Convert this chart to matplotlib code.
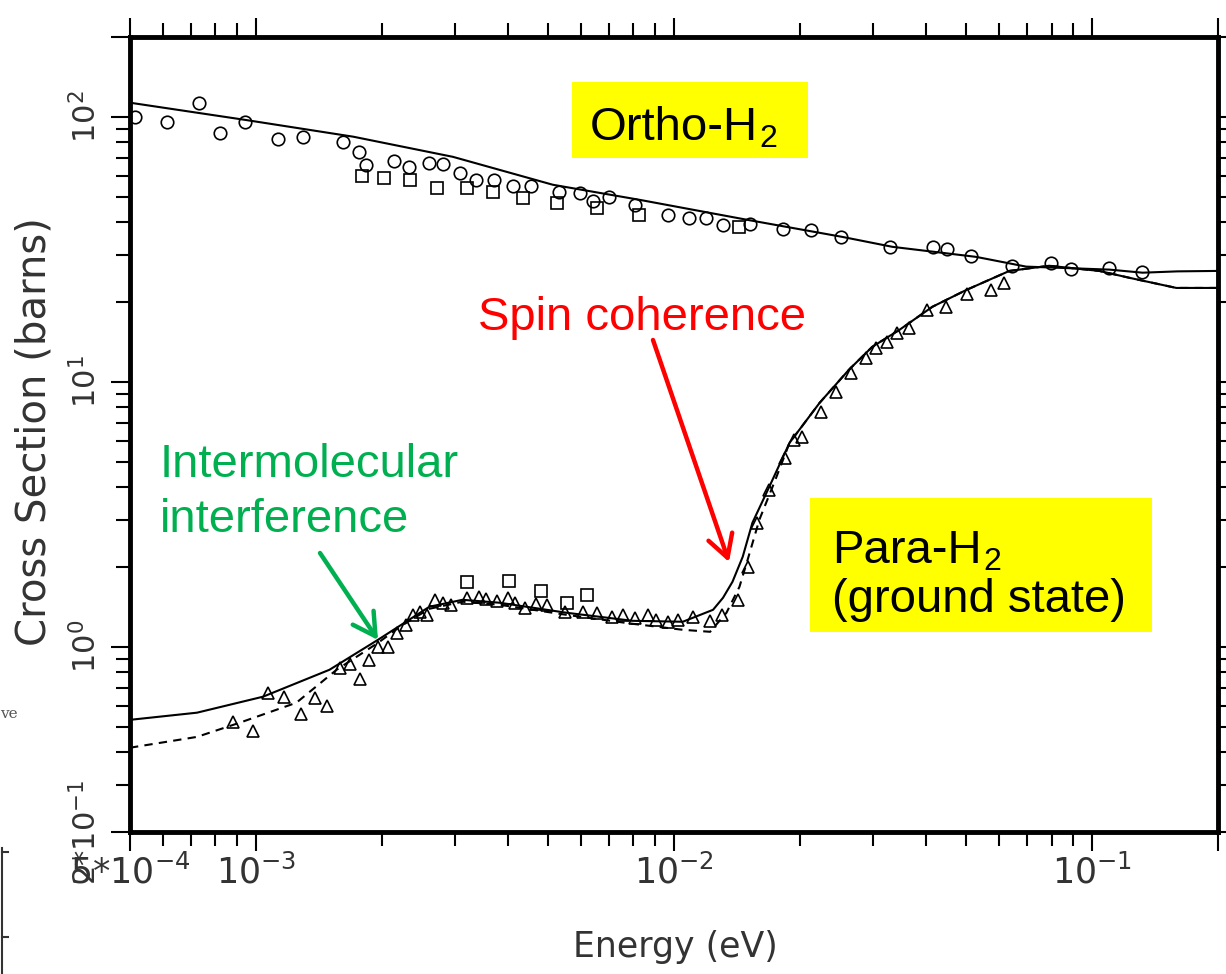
"""Ortho/para-H2 neutron cross section vs energy (log-log), with annotations."""

import numpy as np
import matplotlib
matplotlib.use("Agg")
import matplotlib.pyplot as plt
from matplotlib import font_manager
from matplotlib.patches import Rectangle
from matplotlib.lines import Line2D
from matplotlib.text import Annotation
from matplotlib.ticker import FixedLocator, FixedFormatter, LogLocator, NullFormatter

# --- data (energy in eV, cross section in barns)
ortho_line_x = [5.0e-4, 9.4e-4, 1.71e-3, 2.96e-3, 5.13e-3, 8.27e-3, 1.49e-2, 2.53e-2,
                3.33e-2, 5.28e-2, 6.95e-2, 0.110, 0.132, 0.16, 0.2]
ortho_line_y = [113, 97.4, 84.1, 70.6, 55.4, 48.6, 40.9, 35.2,
                32.3, 29.6, 27.2, 26.5, 25.8, 26.1, 26.2]

para_line_x = [5.0e-4, 7.23e-4, 1.04e-3, 1.50e-3, 1.96e-3, 2.60e-3, 3.12e-3, 3.83e-3,
               5.53e-3, 7.96e-3, 1.05e-2, 1.24e-2, 1.31e-2, 1.38e-2, 1.46e-2, 1.54e-2,
               1.69e-2, 1.89e-2, 2.23e-2, 2.62e-2, 2.98e-2, 3.46e-2, 4.15e-2, 5.00e-2,
               6.34e-2, 7.89e-2, 0.104, 0.1225, 0.159, 0.2]
para_line_y = [0.530, 0.564, 0.648, 0.819, 1.063, 1.416, 1.504, 1.466,
               1.344, 1.253, 1.243, 1.379, 1.531, 1.759, 2.186, 2.937,
               4.015, 5.888, 8.33, 11.1, 13.55, 15.7, 19.19, 22.2,
               26.2, 27.4, 26.2, 24.7, 22.6, 22.6]

para_dash_x = [5.0e-4, 7.23e-4, 9.15e-4, 1.25e-3, 1.56e-3, 1.96e-3, 2.21e-3, 2.60e-3,
               3.12e-3, 3.83e-3, 5.53e-3, 7.96e-3, 1.05e-2, 1.22e-2, 1.335e-2, 1.434e-2,
               1.50e-2, 1.60e-2, 1.74e-2, 1.89e-2, 2.23e-2, 2.62e-2, 2.98e-2, 3.46e-2,
               4.15e-2, 5.00e-2, 6.34e-2, 7.89e-2, 0.104, 0.1225, 0.159, 0.2]
para_dash_y = [0.416, 0.457, 0.517, 0.615, 0.819, 1.035, 1.19, 1.391,
               1.479, 1.44, 1.32, 1.221, 1.159, 1.139, 1.344, 1.684,
               2.13, 3.015, 4.195, 5.888, 8.33, 11.1, 13.55, 15.7,
               19.19, 22.2, 26.2, 27.4, 26.2, 24.7, 22.6, 22.6]

ortho_circ_x = [5.14e-4, 6.13e-4, 7.31e-4, 8.20e-4, 9.41e-4, 1.129e-3, 1.295e-3, 1.614e-3,
                1.762e-3, 1.832e-3, 2.137e-3, 2.321e-3, 2.590e-3, 2.798e-3, 3.072e-3,
                3.356e-3, 3.705e-3, 4.113e-3, 4.541e-3, 5.30e-3, 5.95e-3, 6.39e-3,
                6.98e-3, 8.05e-3, 9.65e-3, 1.089e-2, 1.19e-2, 1.313e-2, 1.523e-2,
                1.827e-2, 2.131e-2, 2.514e-2, 3.292e-2, 4.17e-2, 4.50e-2, 5.14e-2,
                6.44e-2, 7.98e-2, 8.91e-2, 0.1098, 0.1317]
ortho_circ_y = [100, 95.7, 112.9, 87.0, 95.7, 82.6, 84.1, 80.5,
                73.8, 65.9, 68.2, 64.8, 67.1, 66.5, 61.5,
                57.8, 57.8, 54.9, 54.9, 52.1, 51.7, 48.2,
                49.9, 46.6, 42.7, 41.6, 41.6, 39.1, 39.5,
                37.8, 37.5, 35.3, 32.3, 32.3, 31.8, 29.9,
                27.4, 28.1, 26.7, 26.9, 26.0]

ortho_sq_x = [1.792e-3, 2.023e-3, 2.333e-3, 2.707e-3, 3.193e-3, 3.684e-3, 4.345e-3,
              5.24e-3, 6.53e-3, 8.23e-3, 1.434e-2]
ortho_sq_y = [59.9, 58.9, 57.8, 54.0, 54.0, 52.1, 49.5, 47.4, 45.4, 42.7, 38.5]

para_sq_x = [3.193e-3, 4.02e-3, 4.80e-3, 5.54e-3, 6.21e-3]
para_sq_y = [1.759, 1.775, 1.627, 1.466, 1.571]

para_tri_x = [8.81e-4, 9.84e-4, 1.068e-3, 1.166e-3, 1.281e-3, 1.384e-3, 1.478e-3, 1.587e-3,
              1.677e-3, 1.772e-3, 1.862e-3, 1.957e-3, 2.068e-3, 2.173e-3, 2.283e-3,
              2.373e-3, 2.466e-3, 2.563e-3, 2.678e-3, 2.798e-3, 2.924e-3, 3.193e-3,
              3.411e-3, 3.545e-3, 3.766e-3, 4.002e-3, 4.159e-3, 4.393e-3, 4.668e-3,
              4.958e-3, 5.474e-3, 6.045e-3, 6.53e-3, 7.09e-3, 7.57e-3, 8.05e-3,
              8.65e-3, 9.08e-3, 9.65e-3, 1.025e-2, 1.113e-2, 1.222e-2, 1.306e-2,
              1.426e-2, 1.507e-2, 1.583e-2, 1.691e-2, 1.847e-2, 1.941e-2, 2.028e-2,
              2.252e-2, 2.445e-2, 2.656e-2, 2.884e-2, 3.047e-2, 3.237e-2, 3.42e-2,
              3.653e-2, 4.035e-2, 4.48e-2, 5.03e-2, 5.74e-2, 6.16e-2]
para_tri_y = [0.521, 0.482, 0.671, 0.648, 0.559, 0.642, 0.599, 0.833,
              0.863, 0.757, 0.893, 1.0, 1.0, 1.129, 1.211,
              1.321, 1.356, 1.321, 1.504, 1.466, 1.440, 1.531,
              1.544, 1.518, 1.492, 1.531, 1.466, 1.404, 1.453,
              1.440, 1.356, 1.356, 1.344, 1.298, 1.321, 1.287,
              1.321, 1.264, 1.243, 1.264, 1.298, 1.254, 1.321,
              1.504, 2.004, 2.938, 3.912, 5.168, 6.04, 6.20,
              7.70, 9.17, 10.81, 12.32, 13.44, 14.16, 15.31,
              15.99, 18.70, 19.19, 21.48, 22.25, 23.63]

x_major = [5e-4, 1e-3, 1e-2, 1e-1, 2e-1]
x_labels = [r"$5{*}10^{-4}$", r"$10^{-3}$", r"$10^{-2}$", r"$10^{-1}$", ""]
y_major = [0.2, 1, 10, 100, 200]
y_labels = [r"$2{*}10^{-1}$", r"$10^{0}$", r"$10^{1}$", r"$10^{2}$", ""]

# --- fonts: narrow face for the axes if present, Arial-like for the callouts
names = {f.name for f in font_manager.fontManager.ttflist}
if "Liberation Sans Narrow" in names:
    THIN, XT, YT, XL, YL = "Liberation Sans Narrow", 28, 25, 31, 36
else:
    THIN, XT, YT, XL, YL = "DejaVu Sans", 25, 22, 25, 29
SANS = "Liberation Sans"
plt.rcParams.update({"font.family": [THIN, "DejaVu Sans"],
                     "mathtext.fontset": "custom", "mathtext.rm": THIN,
                     "mathtext.it": THIN, "mathtext.bf": THIN, "mathtext.sf": THIN})
INK = "#333333"

W, H = 1226, 974
def fx(px): return px / W
def fy(py): return 1 - py / H

fig = plt.figure(figsize=(W / 100, H / 100), dpi=100)
ax = fig.add_axes([fx(130), fy(832), (1218 - 130) / W, (832 - 37) / H])
ax.set_xscale("log")
ax.set_yscale("log")

LW = 1.5
ax.plot(ortho_line_x, ortho_line_y, "-", color="black", lw=LW)
ax.plot(para_line_x, para_line_y, "-", color="black", lw=LW)
ax.plot(para_dash_x, para_dash_y, color="black", lw=LW, ls=(0, (4, 3)))
mk = dict(ls="none", mfc="none", mec="black", mew=1.2)
ax.plot(ortho_circ_x, ortho_circ_y, marker="o", ms=9, **mk)
ax.plot(ortho_sq_x, ortho_sq_y, marker="s", ms=8, **mk)
ax.plot(para_sq_x, para_sq_y, marker="s", ms=8, **mk)
ax.plot(para_tri_x, para_tri_y, marker="^", ms=8, **mk)

ax.set_xlim(5e-4, 0.2)
ax.set_ylim(0.2, 200)

ax.xaxis.set_major_locator(FixedLocator(x_major))
ax.xaxis.set_major_formatter(FixedFormatter(x_labels))
ax.xaxis.set_minor_locator(LogLocator(base=10, subs=np.arange(2, 10), numticks=30))
ax.xaxis.set_minor_formatter(NullFormatter())
ax.yaxis.set_major_locator(FixedLocator(y_major))
ax.yaxis.set_major_formatter(FixedFormatter(y_labels))
ax.yaxis.set_minor_locator(LogLocator(base=10, subs=np.arange(2, 10), numticks=30))
ax.yaxis.set_minor_formatter(NullFormatter())

ax.tick_params(which="both", direction="out", top=True, right=True, width=1.5, color="black")
ax.tick_params(which="major", length=14)
ax.tick_params(which="minor", length=10)
ax.tick_params(axis="x", labelsize=XT, pad=2, labelcolor=INK)
ax.tick_params(axis="y", labelsize=YT, pad=6, labelcolor=INK)
for lab in ax.get_yticklabels():
    lab.set_rotation(90)
    lab.set_va("center")
for s in ax.spines.values():
    s.set_linewidth(3.5)

fig.text(fx(675), fy(947), "Energy (eV)", ha="center", va="center",
         fontsize=XL, color=INK)
fig.text(fx(35), fy(432), "Cross Section (barns)", ha="center", va="center",
         rotation=90, fontsize=YL, color=INK)

# --- callouts
YEL = "#ffff00"
fig.patches.append(Rectangle((fx(572), fy(158)), (808 - 572) / W, (158 - 82) / H,
                             transform=fig.transFigure, facecolor=YEL, edgecolor="none"))
fig.patches.append(Rectangle((fx(810), fy(632)), (1152 - 810) / W, (632 - 498) / H,
                             transform=fig.transFigure, facecolor=YEL, edgecolor="none"))

def label_h2(x, y, head):
    t = fig.text(fx(x), fy(y), head, fontsize=34, family=SANS, va="baseline", zorder=3)
    sub = Annotation("2", xy=(1, 0), xycoords=t, xytext=(1, 2), textcoords="offset points",
                     fontsize=23, family=SANS, va="baseline", annotation_clip=False)
    sub.set_zorder(3)
    fig.add_artist(sub)

label_h2(590, 140, "Ortho-H")
label_h2(832, 563, "Para-H")
fig.text(fx(832), fy(612), "(ground state)", fontsize=34, family=SANS, va="baseline")

fig.text(fx(478), fy(330), "Spin coherence", fontsize=34, family=SANS,
         color="#ff0000", va="baseline")
GREEN = "#00b050"
fig.text(fx(160), fy(477), "Intermolecular", fontsize=34, family=SANS,
         color=GREEN, va="baseline")
fig.text(fx(160), fy(532), "interference", fontsize=34, family=SANS,
         color=GREEN, va="baseline")

for (x0, y0, x1, y1, c) in [(653, 340, 729, 562, "#ff0000"), (320, 553, 378, 640, GREEN)]:
    ax.annotate("", xy=(fx(x1), fy(y1)), xycoords="figure fraction",
                xytext=(fx(x0), fy(y0)), textcoords="figure fraction",
                annotation_clip=False,
                arrowprops=dict(arrowstyle="->,head_length=0.8,head_width=0.45",
                                color=c, lw=3.2, mutation_scale=20,
                                shrinkA=0, shrinkB=0))

# stray bits of the neighbouring page in the scan
fig.text(0.0, fy(714), "ve", fontsize=11, family="DejaVu Serif", color="#555555",
         va="center")
fig.add_artist(Line2D([fx(2), fx(2)], [fy(848), fy(974)], color=INK, lw=1.5))
for yy in (852, 937):
    fig.add_artist(Line2D([fx(2), fx(8)], [fy(yy), fy(yy)], color=INK, lw=1.5))

fig.savefig("out.png", dpi=100)
